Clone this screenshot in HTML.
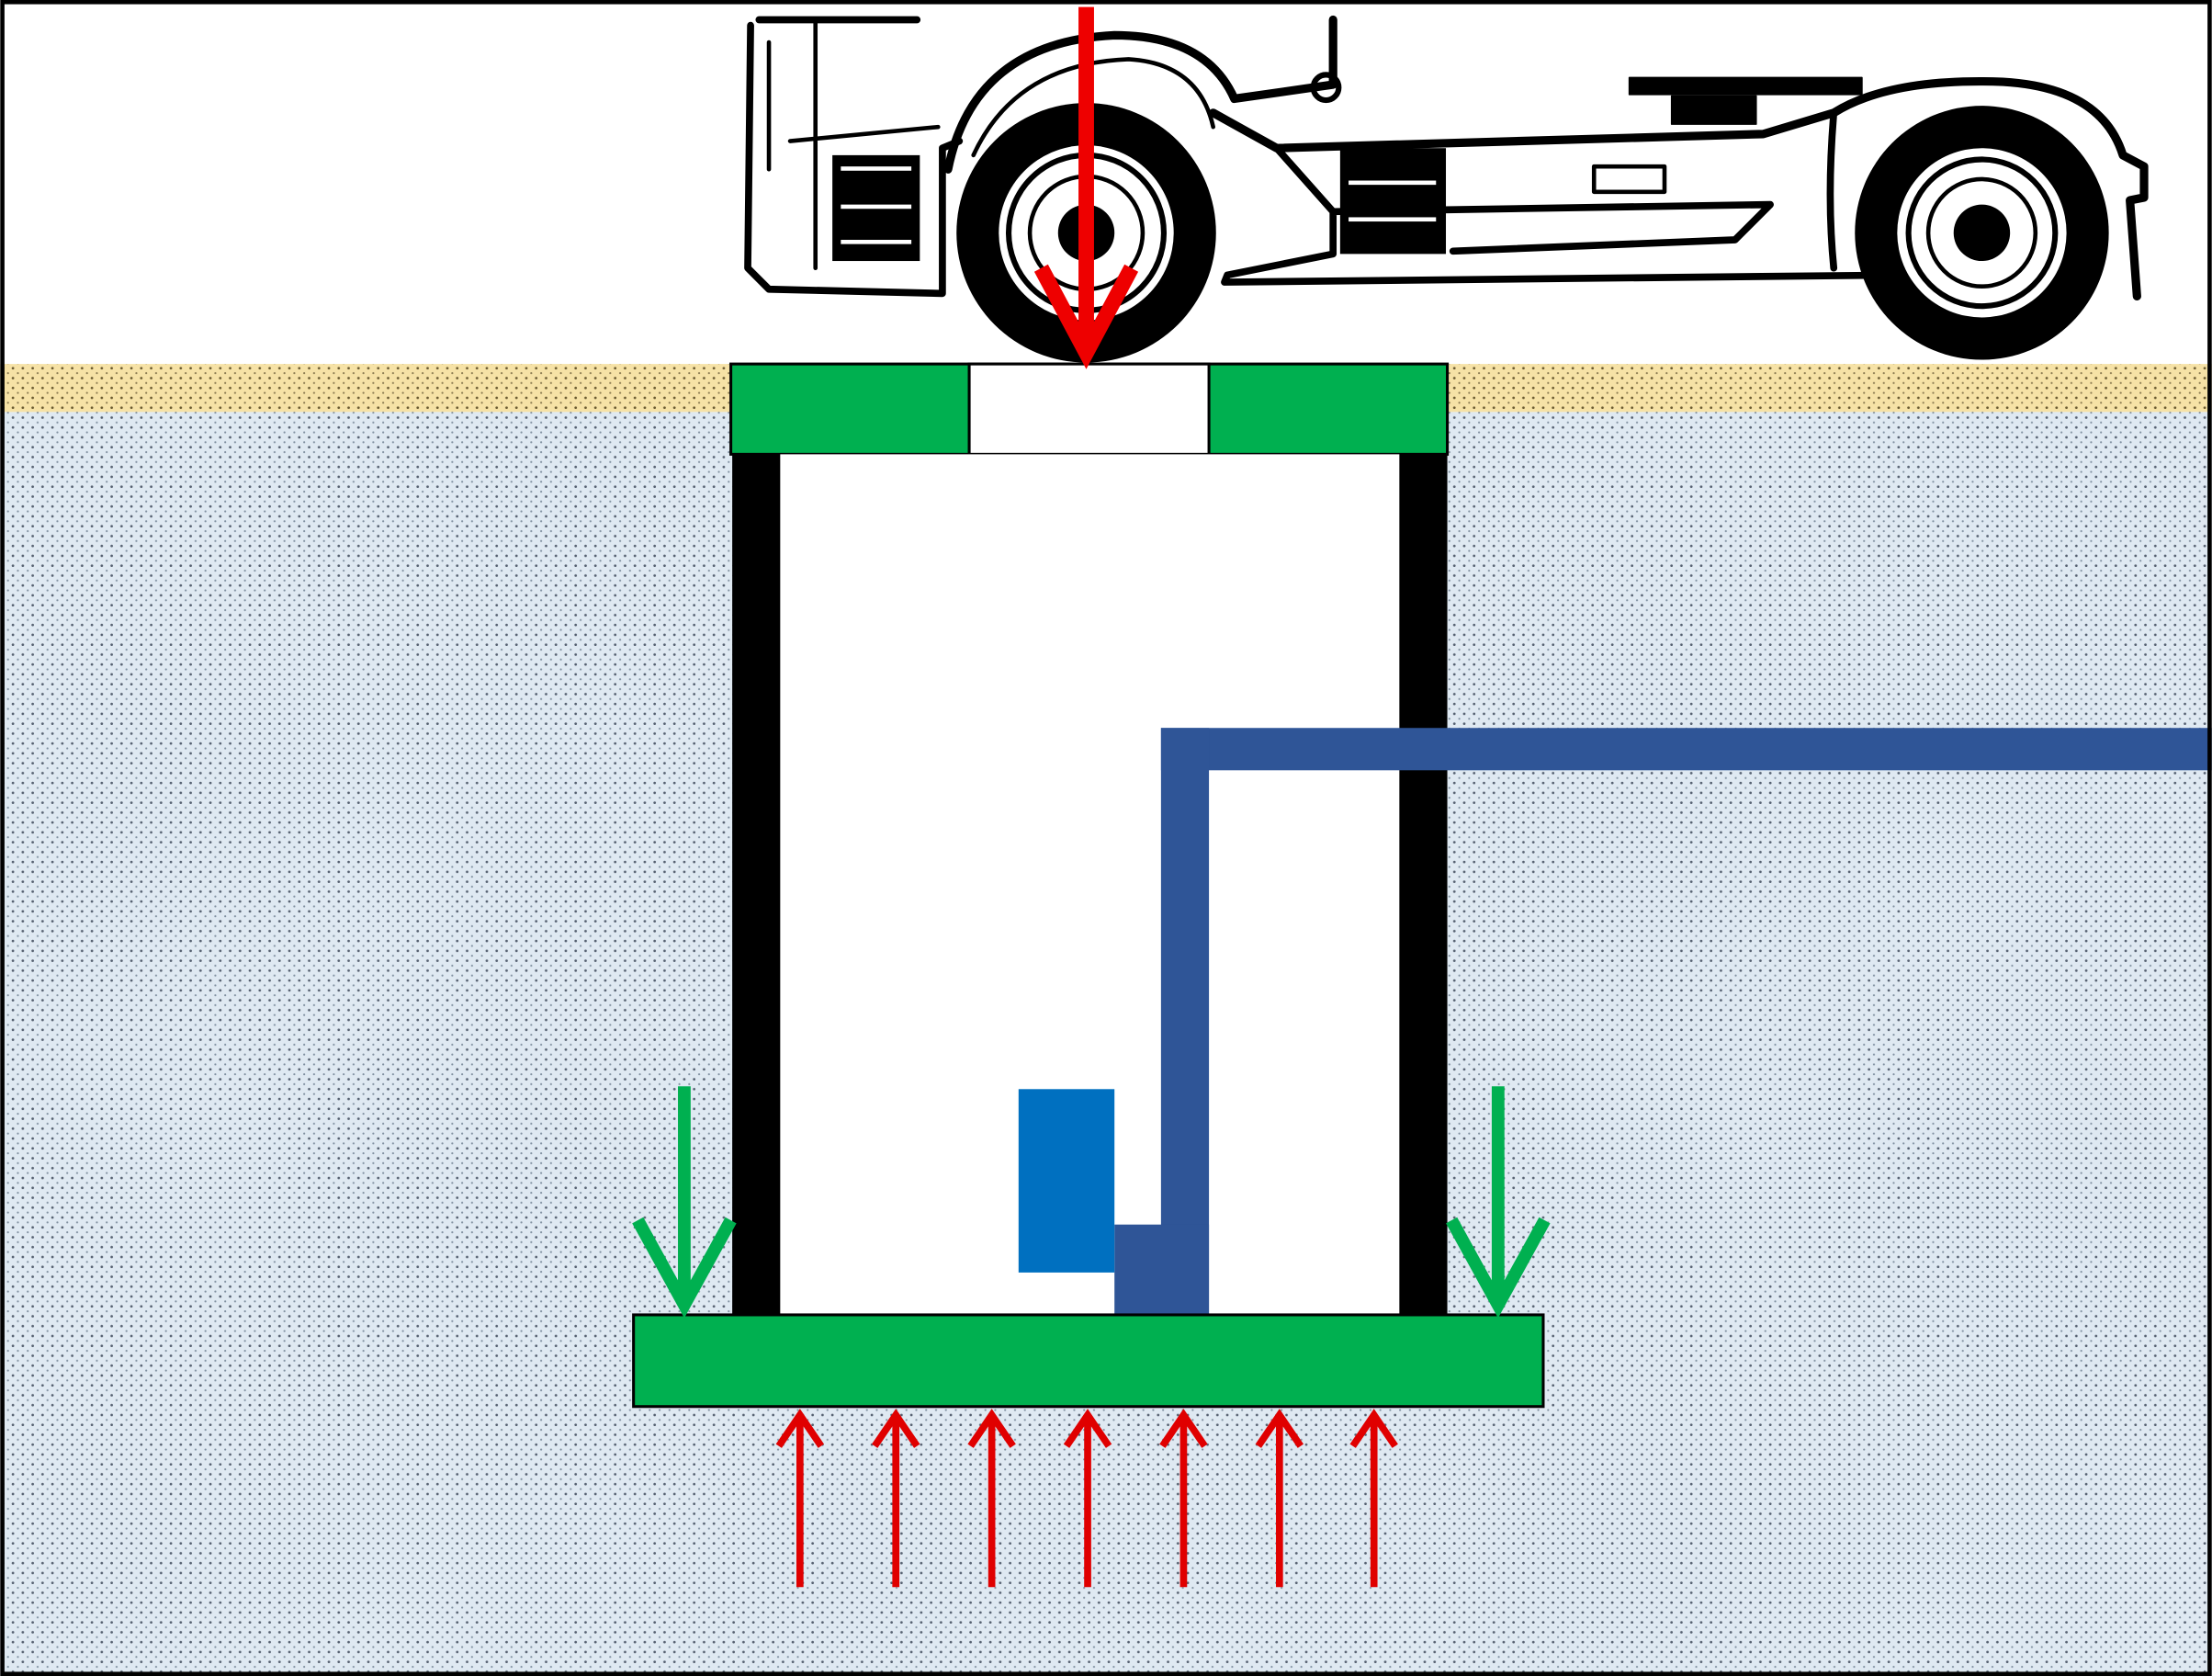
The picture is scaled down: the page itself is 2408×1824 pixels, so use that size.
<!DOCTYPE html>
<html><head><meta charset="utf-8"><style>html,body{margin:0;padding:0;background:#fff}svg{display:block}</style></head>
<body>
<svg width="2408" height="1824" viewBox="0 0 1568 1188" xmlns="http://www.w3.org/2000/svg">
<defs>
<pattern id="dotb" width="7" height="7" patternUnits="userSpaceOnUse">
<rect width="7" height="7" fill="#dfe9f2"/><circle cx="2" cy="2" r="0.9" fill="#556070"/><circle cx="5.5" cy="5.5" r="0.7" fill="#8090a0"/></pattern>
<pattern id="doty" width="7" height="7" patternUnits="userSpaceOnUse">
<rect width="7" height="7" fill="#f6e2a6"/><circle cx="2" cy="2" r="0.9" fill="#6a5a30"/><circle cx="5.5" cy="5.5" r="0.7" fill="#8a7a50"/></pattern>
</defs>
<rect width="1568" height="1188" fill="#fff"/>
<rect x="0" y="292" width="1568" height="896" fill="url(#dotb)"/>
<rect x="0" y="258" width="1568" height="34" fill="url(#doty)"/>
<!-- truck -->
<g fill="none" stroke="#000" stroke-linecap="round" stroke-linejoin="round">
<path d="M538 14 L650 14 M532 18 L530 190 L545 205 L668 208 L668 105 L680 100" stroke-width="5"/>
<path d="M545 30 L545 120 M578 14 L578 190 M560 100 L665 90" stroke-width="3"/>
<path d="M672 120 Q690 30 790 25 Q855 25 875 70 L945 60 L945 14" stroke-width="6"/>
<path d="M690 110 Q720 45 800 42 Q850 45 860 90" stroke-width="3"/>
<path d="M860 80 L905 105 L1250 95 L1300 80 Q1340 55 1420 58 Q1490 62 1505 110 L1520 118 L1520 140 L1510 142 L1515 210" stroke-width="6"/>
<path d="M905 105 L945 150 L945 180 L870 195 L868 200 L1340 195 M945 150 L1255 145 L1230 170 L1030 178" stroke-width="5"/>
<path d="M1300 80 Q1295 140 1300 190" stroke-width="5"/>
<rect x="1155" y="55" width="165" height="12" fill="#000"/>
<rect x="1185" y="68" width="60" height="20" fill="#000"/>
<rect x="1130" y="118" width="50" height="18" stroke-width="3"/>
<circle cx="940" cy="62" r="9" stroke-width="4"/>
</g>
<rect x="590" y="110" width="62" height="75" fill="#000"/>
<rect x="596" y="118" width="50" height="3" fill="#fff"/><rect x="596" y="145" width="50" height="3" fill="#fff"/><rect x="596" y="170" width="50" height="3" fill="#fff"/>
<rect x="950" y="105" width="75" height="75" fill="#000"/>
<rect x="956" y="128" width="62" height="3" fill="#fff"/><rect x="956" y="154" width="62" height="3" fill="#fff"/>
<circle cx="770" cy="165" r="92" fill="#000"/>
<circle cx="770" cy="165" r="62" fill="#fff"/>
<circle cx="770" cy="165" r="55" fill="none" stroke="#000" stroke-width="4"/>
<circle cx="770" cy="165" r="40" fill="none" stroke="#000" stroke-width="3"/>
<circle cx="770" cy="165" r="20" fill="#000"/>
<circle cx="1405" cy="165" r="90" fill="#000"/>
<circle cx="1405" cy="165" r="60" fill="#fff"/>
<circle cx="1405" cy="165" r="52" fill="none" stroke="#000" stroke-width="4"/>
<circle cx="1405" cy="165" r="38" fill="none" stroke="#000" stroke-width="3"/>
<circle cx="1405" cy="165" r="20" fill="#000"/>
<!-- top slab -->
<rect x="518" y="258" width="508" height="64" fill="#00b050" stroke="#000" stroke-width="2"/>
<rect x="687" y="258" width="170" height="64" fill="#fff" stroke="#000" stroke-width="2"/>
<!-- chamber -->
<rect x="519" y="322" width="507" height="610" fill="#000"/>
<rect x="553" y="322" width="439" height="610" fill="#fff"/>
<!-- pipe -->
<rect x="823" y="516" width="745" height="30" fill="#2f5597"/>
<rect x="823" y="516" width="34" height="416" fill="#2f5597"/>
<rect x="790" y="868" width="67" height="64" fill="#2f5597"/>
<rect x="722" y="772" width="68" height="130" fill="#0070c0"/>
<!-- base slab -->
<rect x="449" y="932" width="645" height="65" fill="#00b050" stroke="#000" stroke-width="2"/>
<!-- green arrows -->
<g stroke="#00b050" stroke-width="9" fill="none" stroke-linecap="butt">
<path d="M485 770 L485 925 M452 865 L485 925 L518 865"/>
<path d="M1062 770 L1062 925 M1029 865 L1062 925 L1095 865"/>
</g>
<!-- red up arrows -->
<g stroke="#e00000" stroke-width="5" fill="none">
<path d="M567 1125 V1003 M552 1025 L567 1003 L582 1025"/>
<path d="M635 1125 V1003 M620 1025 L635 1003 L650 1025"/>
<path d="M703 1125 V1003 M688 1025 L703 1003 L718 1025"/>
<path d="M771 1125 V1003 M756 1025 L771 1003 L786 1025"/>
<path d="M839 1125 V1003 M824 1025 L839 1003 L854 1025"/>
<path d="M907 1125 V1003 M892 1025 L907 1003 L922 1025"/>
<path d="M974 1125 V1003 M959 1025 L974 1003 L989 1025"/>
</g>
<!-- big red arrow -->
<g stroke="#ee0000" stroke-width="11" fill="none">
<path d="M770 5 V250 M738 190 L770 250 L802 190"/>
</g>
<rect x="1.5" y="1.5" width="1565" height="1185" fill="none" stroke="#000" stroke-width="3"/>
</svg>
</body></html>
